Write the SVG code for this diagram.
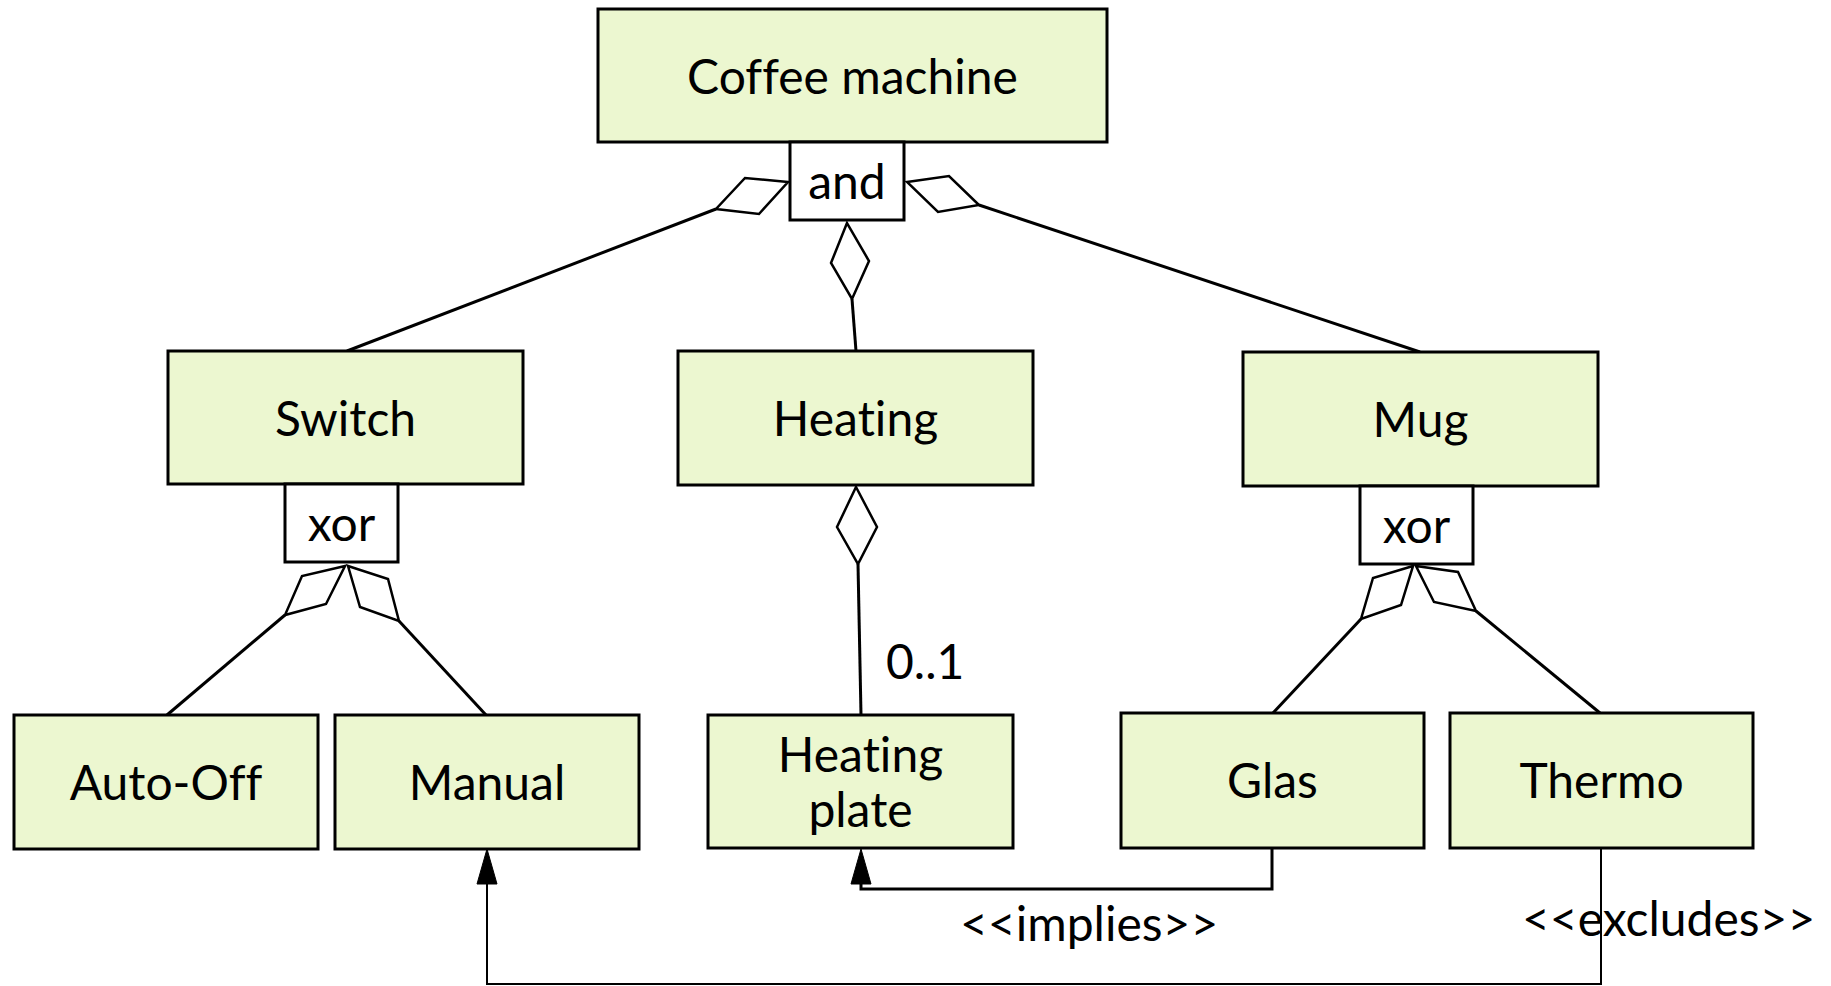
<svg xmlns="http://www.w3.org/2000/svg" width="1831" height="986" viewBox="0 0 1831 986">
  <style>
    .feat { fill: #ECF7D0; stroke: #000; stroke-width: 3; }
    .op { fill: #fff; stroke: #000; stroke-width: 3; }
    .lbl { font-family: Lato, "Liberation Sans", sans-serif; font-size: 48px; fill: #000; text-anchor: middle; font-variant-ligatures: none; font-feature-settings: "liga" 0; }
    .free { font-family: Lato, "Liberation Sans", sans-serif; font-size: 48px; fill: #000; font-variant-ligatures: none; font-feature-settings: "liga" 0; }
    .edge { fill: none; stroke: #000; stroke-width: 3; }
    .thin { fill: none; stroke: #000; stroke-width: 2; }
    .dia { fill: #fff; stroke: #000; stroke-width: 2.5; stroke-linejoin: miter; }
    .head { fill: #000; stroke: #000; stroke-width: 1; }
  </style>
  <rect width="1831" height="986" fill="#fff"/>

  <!-- connectors: aggregation links, constraints -->
  <g id="connectors">
    <!-- Coffee machine (and) children -->
    <line class="edge" x1="716" y1="209" x2="347" y2="351"/>
    <polygon class="dia" points="788,182 745,178 716,209 759,214"/>
    <line class="edge" x1="852" y1="299" x2="856" y2="351"/>
    <polygon class="dia" points="847,223 831,263 852,299 869,261"/>
    <line class="edge" x1="979" y1="205" x2="1420" y2="352"/>
    <polygon class="dia" points="907,182 949,176 979,205 938,212"/>

    <!-- Switch (xor) children -->
    <line class="edge" x1="285" y1="615" x2="167" y2="715"/>
    <polygon class="dia" points="345,566 302,576 285,615 326,604"/>
    <line class="edge" x1="399" y1="621" x2="486" y2="715"/>
    <polygon class="dia" points="348,566 388,579 399,621 360,607"/>

    <!-- Heating optional child -->
    <line class="edge" x1="858" y1="564" x2="861" y2="715"/>
    <polygon class="dia" points="856,487 837,527 858,564 877,527"/>

    <!-- Mug (xor) children -->
    <line class="edge" x1="1361" y1="619" x2="1273" y2="713"/>
    <polygon class="dia" points="1413,566 1373,578 1361,619 1401,605"/>
    <line class="edge" x1="1476" y1="611" x2="1600" y2="713"/>
    <polygon class="dia" points="1416,566 1458,572 1476,611 1434,602"/>

    <!-- Glas implies Heating plate -->
    <path class="edge" d="M1272,848 V889 H861 V880"/>
    <polygon class="head" points="861,849 851,884 871,884"/>

    <!-- Thermo excludes Manual -->
    <path class="thin" d="M1601,848 V984 H487 V880"/>
    <polygon class="head" points="487,849 477,884 497,884"/>
  </g>

  <g id="coffee-machine">
    <rect class="feat" x="598" y="9" width="509" height="133"/>
    <text class="lbl" x="852.5" y="94">Coffee machine</text>
  </g>
  <g id="and-group">
    <rect class="op" x="790" y="142" width="114" height="78"/>
    <text class="lbl" x="847" y="199">and</text>
  </g>

  <g id="switch">
    <rect class="feat" x="168" y="351" width="355" height="133"/>
    <text class="lbl" x="345.5" y="436">Switch</text>
  </g>
  <g id="switch-xor">
    <rect class="op" x="285" y="484" width="113" height="78"/>
    <text class="lbl" x="341.5" y="541">xor</text>
  </g>

  <g id="heating">
    <rect class="feat" x="678" y="351" width="355" height="134"/>
    <text class="lbl" x="855.5" y="436">Heating</text>
  </g>

  <g id="mug">
    <rect class="feat" x="1243" y="352" width="355" height="134"/>
    <text class="lbl" x="1420.5" y="437">Mug</text>
  </g>
  <g id="mug-xor">
    <rect class="op" x="1360" y="486" width="113" height="78"/>
    <text class="lbl" x="1416.5" y="543">xor</text>
  </g>

  <g id="auto-off">
    <rect class="feat" x="14" y="715" width="304" height="134"/>
    <text class="lbl" x="166" y="800">Auto-Off</text>
  </g>
  <g id="manual">
    <rect class="feat" x="335" y="715" width="304" height="134"/>
    <text class="lbl" x="487" y="800">Manual</text>
  </g>
  <g id="heating-plate">
    <rect class="feat" x="708" y="715" width="305" height="133"/>
    <text class="lbl" x="860.5" y="772">Heating</text>
    <text class="lbl" x="860.5" y="827">plate</text>
  </g>
  <g id="glas">
    <rect class="feat" x="1121" y="713" width="303" height="135"/>
    <text class="lbl" x="1272.5" y="798">Glas</text>
  </g>
  <g id="thermo">
    <rect class="feat" x="1450" y="713" width="303" height="135"/>
    <text class="lbl" x="1601.5" y="798">Thermo</text>
  </g>

  <!-- edge labels -->
  <g id="labels">
    <text class="free" x="886" y="679">0..1</text>
    <text class="free" x="960" y="941">&lt;&lt;implies&gt;&gt;</text>
    <text class="free" x="1522" y="936">&lt;&lt;excludes&gt;&gt;</text>
  </g>
</svg>
